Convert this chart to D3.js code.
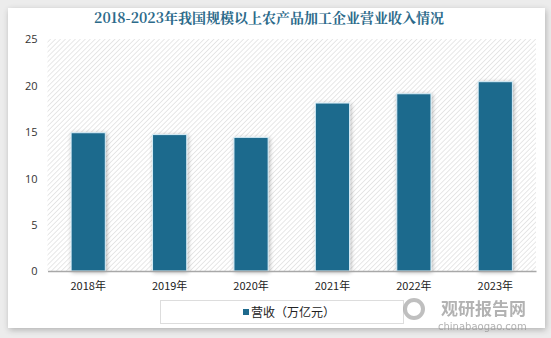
<!DOCTYPE html>
<html><head><meta charset="utf-8">
<script src="https://cdn.jsdelivr.net/npm/d3@7"></script>
<style>
html,body{margin:0;padding:0;background:#ececec;}
svg{display:block;}
</style></head>
<body>
<script>
const categories = ["2018年","2019年","2020年","2021年","2022年","2023年"];
const revenue = [14.9, 14.7, 14.4, 18.1, 19.1, 20.4];
const yTicks = [0,5,10,15,20,25];
const title = "2018-2023年我国规模以上农产品加工企业营业收入情况";
const legendLabel = "营收（万亿元）";

const W = 551, H = 338;
const svg = d3.select("body").append("svg").attr("width", W).attr("height", H);
const defs = svg.append("defs");
const sh = defs.append("filter").attr("id","cardShadow").attr("x","-5%").attr("y","-5%").attr("width","110%").attr("height","115%");
sh.append("feGaussianBlur").attr("in","SourceAlpha").attr("stdDeviation",3);
sh.append("feOffset").attr("dx",1).attr("dy",2).attr("result","o");
sh.append("feComponentTransfer").append("feFuncA").attr("type","linear").attr("slope",0.25);
const m1 = sh.append("feMerge"); m1.append("feMergeNode"); m1.append("feMergeNode").attr("in","SourceGraphic");

const bs = defs.append("filter").attr("id","barShadow").attr("x","-30%").attr("y","-10%").attr("width","160%").attr("height","120%");
bs.append("feGaussianBlur").attr("in","SourceAlpha").attr("stdDeviation",2);
bs.append("feOffset").attr("dx",1).attr("dy",1).attr("result","o");
bs.append("feComponentTransfer").append("feFuncA").attr("type","linear").attr("slope",0.3);
const m2 = bs.append("feMerge"); m2.append("feMergeNode"); m2.append("feMergeNode").attr("in","SourceGraphic");

const pat = defs.append("pattern").attr("id","hatch").attr("patternUnits","userSpaceOnUse")
  .attr("width",3.5).attr("height",3.5).attr("patternTransform","rotate(45)");
pat.append("rect").attr("width",3.5).attr("height",3.5).attr("fill","#ffffff");
pat.append("line").attr("x1",0).attr("y1",0).attr("x2",0).attr("y2",3.5).attr("stroke","#d4d4d4").attr("stroke-width",1.1);

// card
svg.append("rect").attr("x",8).attr("y",8).attr("width",537).attr("height",320).attr("fill","#fff").attr("filter","url(#cardShadow)");

const x0 = 47.5, x1 = 536, yTop = 39, yBot = 271;
const x = d3.scaleBand().domain(categories).range([x0, x1]).paddingInner(0.58).paddingOuter(0.29);
const y = d3.scaleLinear().domain([0,25]).range([yBot, yTop]);

// plot background hatch
svg.append("rect").attr("x",x0).attr("y",yTop).attr("width",x1-x0).attr("height",yBot-yTop).attr("fill","url(#hatch)");

// title
svg.append("text").attr("x",269).attr("y",23).attr("text-anchor","middle")
  .attr("font-family","'Noto Serif CJK SC','Noto Sans CJK SC',serif").attr("font-weight","bold")
  .attr("font-size",14).attr("fill","#2c6a8a").text(title);

// y axis labels
const yAxis = d3.axisLeft(y).tickValues(yTicks).tickSize(0).tickPadding(10);
const gy = svg.append("g").attr("transform",`translate(${x0},0)`).call(yAxis);
gy.select(".domain").remove();
gy.selectAll("text").attr("font-family","'Open Sans','DejaVu Sans',sans-serif").attr("font-size",11).attr("fill","#333").attr("dy","0.35em");

// bars
svg.append("g").selectAll("rect").data(revenue).join("rect")
  .attr("x",(d,i)=>x(categories[i])).attr("y",d=>y(d))
  .attr("width",x.bandwidth()).attr("height",d=>yBot-y(d))
  .attr("fill","#1f6a8d").attr("stroke","#d7eef8").attr("stroke-width",1)
  .attr("filter","url(#barShadow)");

// x axis
const xAxis = d3.axisBottom(x).tickSize(0).tickPadding(11);
const gx = svg.append("g").attr("transform",`translate(0,${yBot})`).call(xAxis);
gx.select(".domain").attr("stroke","#a8a8a8").attr("stroke-width",1.5);
gx.selectAll("text").attr("font-family","'Noto Sans CJK SC','Open Sans',sans-serif").attr("font-size",11).attr("fill","#222");

// legend
svg.append("rect").attr("x",160.5).attr("y",300.5).attr("width",243).attr("height",23).attr("fill","#fff").attr("stroke","#dddddd");
svg.append("rect").attr("x",243).attr("y",309).attr("width",6).attr("height",6).attr("fill","#1f6a8d");
svg.append("text").attr("x",251).attr("y",316.5).attr("font-family","'Noto Sans CJK SC',sans-serif").attr("font-size",12).attr("fill","#222").text(legendLabel);

// watermark
const wm = svg.append("g").attr("opacity",0.75);
wm.append("circle").attr("cx",414).attr("cy",309).attr("r",9).attr("fill","none").attr("stroke","#aaa").attr("stroke-width",4);
wm.append("text").attr("x",441).attr("y",315).attr("font-family","'Noto Sans CJK SC',sans-serif").attr("font-weight","bold").attr("font-size",17).attr("fill","#999").text("观研报告网");
wm.append("text").attr("x",438).attr("y",330).attr("font-family","'DejaVu Sans',sans-serif").attr("font-size",10).attr("fill","#999").text("chinabaogao.com");
</script>
</body></html>
